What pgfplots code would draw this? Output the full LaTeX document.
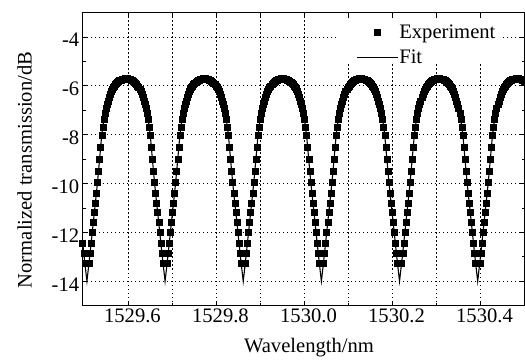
\documentclass[border=0pt]{standalone}
\usepackage{fontspec}
\setmainfont{Liberation Serif}
\usepackage{pgfplots}
\usepackage{pgfplotstable}
\pgfplotsset{compat=1.18}
\pgfplotstableread{
x f
1529.4960 -12.43
1529.4984 -12.84
1529.5008 -13.24
1529.5032 -13.62
1529.5056 -14.00
1529.5080 -13.62
1529.5104 -13.24
1529.5128 -12.84
1529.5152 -12.43
1529.5176 -12.01
1529.5200 -11.60
1529.5224 -11.19
1529.5248 -10.79
1529.5272 -10.38
1529.5296 -9.95
1529.5320 -9.48
1529.5344 -9.00
1529.5368 -8.51
1529.5392 -8.02
1529.5416 -7.68
1529.5440 -7.38
1529.5464 -7.13
1529.5488 -6.93
1529.5512 -6.76
1529.5536 -6.61
1529.5560 -6.47
1529.5584 -6.34
1529.5608 -6.23
1529.5632 -6.14
1529.5656 -6.06
1529.5680 -5.99
1529.5704 -5.93
1529.5728 -5.88
1529.5752 -5.84
1529.5776 -5.80
1529.5800 -5.77
1529.5824 -5.75
1529.5848 -5.73
1529.5872 -5.72
1529.5896 -5.71
1529.5920 -5.70
1529.5944 -5.70
1529.5968 -5.70
1529.5992 -5.71
1529.6016 -5.72
1529.6040 -5.73
1529.6064 -5.75
1529.6088 -5.77
1529.6112 -5.80
1529.6136 -5.84
1529.6160 -5.88
1529.6184 -5.93
1529.6208 -5.99
1529.6232 -6.06
1529.6256 -6.14
1529.6280 -6.23
1529.6304 -6.34
1529.6328 -6.47
1529.6352 -6.61
1529.6376 -6.76
1529.6400 -6.93
1529.6424 -7.13
1529.6448 -7.38
1529.6472 -7.68
1529.6496 -8.02
1529.6520 -8.51
1529.6544 -9.00
1529.6568 -9.48
1529.6592 -9.95
1529.6616 -10.38
1529.6640 -10.79
1529.6664 -11.19
1529.6688 -11.60
1529.6712 -12.01
1529.6736 -12.43
1529.6760 -12.84
1529.6784 -13.24
1529.6808 -13.62
1529.6832 -14.00
1529.6856 -13.62
1529.6880 -13.24
1529.6904 -12.84
1529.6928 -12.43
1529.6952 -12.01
1529.6976 -11.60
1529.7000 -11.19
1529.7024 -10.79
1529.7048 -10.38
1529.7072 -9.95
1529.7096 -9.48
1529.7120 -9.00
1529.7144 -8.51
1529.7168 -8.02
1529.7192 -7.68
1529.7216 -7.38
1529.7240 -7.13
1529.7264 -6.93
1529.7288 -6.76
1529.7312 -6.61
1529.7336 -6.47
1529.7360 -6.34
1529.7384 -6.23
1529.7408 -6.14
1529.7432 -6.06
1529.7456 -5.99
1529.7480 -5.93
1529.7504 -5.88
1529.7528 -5.84
1529.7552 -5.80
1529.7576 -5.77
1529.7600 -5.75
1529.7624 -5.73
1529.7648 -5.72
1529.7672 -5.71
1529.7696 -5.70
1529.7720 -5.70
1529.7744 -5.70
1529.7768 -5.71
1529.7792 -5.72
1529.7816 -5.73
1529.7840 -5.75
1529.7864 -5.77
1529.7888 -5.80
1529.7912 -5.84
1529.7936 -5.88
1529.7960 -5.93
1529.7984 -5.99
1529.8008 -6.06
1529.8032 -6.14
1529.8056 -6.23
1529.8080 -6.34
1529.8104 -6.47
1529.8128 -6.61
1529.8152 -6.76
1529.8176 -6.93
1529.8200 -7.13
1529.8224 -7.38
1529.8248 -7.68
1529.8272 -8.02
1529.8296 -8.51
1529.8320 -9.00
1529.8344 -9.48
1529.8368 -9.95
1529.8392 -10.38
1529.8416 -10.79
1529.8440 -11.19
1529.8464 -11.60
1529.8488 -12.01
1529.8512 -12.43
1529.8536 -12.84
1529.8560 -13.24
1529.8584 -13.62
1529.8608 -14.00
1529.8632 -13.62
1529.8656 -13.24
1529.8680 -12.84
1529.8704 -12.43
1529.8728 -12.01
1529.8752 -11.60
1529.8776 -11.19
1529.8800 -10.79
1529.8824 -10.38
1529.8848 -9.95
1529.8872 -9.48
1529.8896 -9.00
1529.8920 -8.51
1529.8944 -8.02
1529.8968 -7.68
1529.8992 -7.38
1529.9016 -7.13
1529.9040 -6.93
1529.9064 -6.76
1529.9088 -6.61
1529.9112 -6.47
1529.9136 -6.34
1529.9160 -6.23
1529.9184 -6.14
1529.9208 -6.06
1529.9232 -5.99
1529.9256 -5.93
1529.9280 -5.88
1529.9304 -5.84
1529.9328 -5.80
1529.9352 -5.77
1529.9376 -5.75
1529.9400 -5.73
1529.9424 -5.72
1529.9448 -5.71
1529.9472 -5.70
1529.9496 -5.70
1529.9520 -5.70
1529.9544 -5.71
1529.9568 -5.72
1529.9592 -5.73
1529.9616 -5.75
1529.9640 -5.77
1529.9664 -5.80
1529.9688 -5.84
1529.9712 -5.88
1529.9736 -5.93
1529.9760 -5.99
1529.9784 -6.06
1529.9808 -6.14
1529.9832 -6.23
1529.9856 -6.34
1529.9880 -6.47
1529.9904 -6.61
1529.9928 -6.76
1529.9952 -6.93
1529.9976 -7.13
1530.0000 -7.38
1530.0024 -7.68
1530.0048 -8.02
1530.0072 -8.51
1530.0096 -9.00
1530.0120 -9.48
1530.0144 -9.95
1530.0168 -10.38
1530.0192 -10.79
1530.0216 -11.19
1530.0240 -11.60
1530.0264 -12.01
1530.0288 -12.43
1530.0312 -12.84
1530.0336 -13.24
1530.0360 -13.62
1530.0384 -14.00
1530.0408 -13.62
1530.0432 -13.24
1530.0456 -12.84
1530.0480 -12.43
1530.0504 -12.01
1530.0528 -11.60
1530.0552 -11.19
1530.0576 -10.79
1530.0600 -10.38
1530.0624 -9.95
1530.0648 -9.48
1530.0672 -9.00
1530.0696 -8.51
1530.0720 -8.02
1530.0744 -7.68
1530.0768 -7.38
1530.0792 -7.13
1530.0816 -6.93
1530.0840 -6.76
1530.0864 -6.61
1530.0888 -6.47
1530.0912 -6.34
1530.0936 -6.23
1530.0960 -6.14
1530.0984 -6.06
1530.1008 -5.99
1530.1032 -5.93
1530.1056 -5.88
1530.1080 -5.84
1530.1104 -5.80
1530.1128 -5.77
1530.1152 -5.75
1530.1176 -5.73
1530.1200 -5.72
1530.1224 -5.71
1530.1248 -5.70
1530.1272 -5.70
1530.1296 -5.70
1530.1320 -5.71
1530.1344 -5.72
1530.1368 -5.73
1530.1392 -5.75
1530.1416 -5.77
1530.1440 -5.80
1530.1464 -5.84
1530.1488 -5.88
1530.1512 -5.93
1530.1536 -5.99
1530.1560 -6.06
1530.1584 -6.14
1530.1608 -6.23
1530.1632 -6.34
1530.1656 -6.47
1530.1680 -6.61
1530.1704 -6.76
1530.1728 -6.93
1530.1752 -7.13
1530.1776 -7.38
1530.1800 -7.68
1530.1824 -8.02
1530.1848 -8.51
1530.1872 -9.00
1530.1896 -9.48
1530.1920 -9.95
1530.1944 -10.38
1530.1968 -10.79
1530.1992 -11.19
1530.2016 -11.60
1530.2040 -12.01
1530.2064 -12.43
1530.2088 -12.84
1530.2112 -13.24
1530.2136 -13.62
1530.2160 -14.00
1530.2184 -13.62
1530.2208 -13.24
1530.2232 -12.84
1530.2256 -12.43
1530.2280 -12.01
1530.2304 -11.60
1530.2328 -11.19
1530.2352 -10.79
1530.2376 -10.38
1530.2400 -9.95
1530.2424 -9.48
1530.2448 -9.00
1530.2472 -8.51
1530.2496 -8.02
1530.2520 -7.68
1530.2544 -7.38
1530.2568 -7.13
1530.2592 -6.93
1530.2616 -6.76
1530.2640 -6.61
1530.2664 -6.47
1530.2688 -6.34
1530.2712 -6.23
1530.2736 -6.14
1530.2760 -6.06
1530.2784 -5.99
1530.2808 -5.93
1530.2832 -5.88
1530.2856 -5.84
1530.2880 -5.80
1530.2904 -5.77
1530.2928 -5.75
1530.2952 -5.73
1530.2976 -5.72
1530.3000 -5.71
1530.3024 -5.70
1530.3048 -5.70
1530.3072 -5.70
1530.3096 -5.71
1530.3120 -5.72
1530.3144 -5.73
1530.3168 -5.75
1530.3192 -5.77
1530.3216 -5.80
1530.3240 -5.84
1530.3264 -5.88
1530.3288 -5.93
1530.3312 -5.99
1530.3336 -6.06
1530.3360 -6.14
1530.3384 -6.23
1530.3408 -6.34
1530.3432 -6.47
1530.3456 -6.61
1530.3480 -6.76
1530.3504 -6.93
1530.3528 -7.13
1530.3552 -7.38
1530.3576 -7.68
1530.3600 -8.02
1530.3624 -8.51
1530.3648 -9.00
1530.3672 -9.48
1530.3696 -9.95
1530.3720 -10.38
1530.3744 -10.79
1530.3768 -11.19
1530.3792 -11.60
1530.3816 -12.01
1530.3840 -12.43
1530.3864 -12.84
1530.3888 -13.24
1530.3912 -13.62
1530.3936 -14.00
1530.3960 -13.62
1530.3984 -13.24
1530.4008 -12.84
1530.4032 -12.43
1530.4056 -12.01
1530.4080 -11.60
1530.4104 -11.19
1530.4128 -10.79
1530.4152 -10.38
1530.4176 -9.95
1530.4200 -9.48
1530.4224 -9.00
1530.4248 -8.51
1530.4272 -8.02
1530.4296 -7.68
1530.4320 -7.38
1530.4344 -7.13
1530.4368 -6.93
1530.4392 -6.76
1530.4416 -6.61
1530.4440 -6.47
1530.4464 -6.34
1530.4488 -6.23
1530.4512 -6.14
1530.4536 -6.06
1530.4560 -5.99
1530.4584 -5.93
1530.4608 -5.88
1530.4632 -5.84
1530.4656 -5.80
1530.4680 -5.77
1530.4704 -5.75
1530.4728 -5.73
1530.4752 -5.72
1530.4776 -5.71
1530.4800 -5.70
1530.4824 -5.70
1530.4848 -5.70
1530.4872 -5.71
1530.4896 -5.72
1530.4920 -5.73
1530.4944 -5.75
1530.4968 -5.77
1530.4992 -5.80
}\spec
\begin{document}
\begin{tikzpicture}
\begin{axis}[
  width=441.8pt, height=293pt, scale only axis,
  xmin=1529.496, xmax=1530.5, ymin=-15, ymax=-3,
  font=\fontsize{20.6pt}{24pt}\selectfont,
  xtick={1529.6,1529.8,1530.0,1530.2,1530.4},
  xticklabels={1529.6,1529.8,1530.0,1530.2,1530.4},
  minor xtick={1529.7,1529.9,1530.1,1530.3},
  ytick={-14,-12,-10,-8,-6,-4},
  yticklabels={-14,-12,-10,-8,-6,-4},
  minor ytick={-13,-11,-9,-7,-5},
  xmajorgrids, xminorgrids, ymajorgrids,
  major grid style={black, line width=0.9pt, dash pattern=on 1.2pt off 2.8pt},
  minor grid style={black, line width=0.9pt, dash pattern=on 1.2pt off 2.8pt},
  tick align=inside,
  major tick length=5pt, minor tick length=3pt,
  every tick/.style={black, line width=0.9pt},
  axis line style={black, line width=1.2pt},
  xticklabel style={inner ysep=3pt, xshift=4pt},
  yticklabel style={yshift=-3pt},
  every axis x label/.style={at={(axis description cs:0.5122,-0.1614)}, anchor=base},
  every axis y label/.style={at={(axis description cs:-0.1154,0.463)}, rotate=90, anchor=base},
  xlabel={Wavelength/nm},
  ylabel={Normalized transmission/dB},
  legend cell align=left,
  legend style={draw=none, fill=none, inner xsep=0pt, inner ysep=0pt,
    at={(axis description cs:0.6192,0.9604)}, anchor=north west, row sep=9pt,
    nodes={inner xsep=0.75pt, inner ysep=0pt, text height=14pt, text depth=2pt},
    font=\fontsize{20.6pt}{24pt}\selectfont},
]
\fill[white] (rel axis cs:0.5779,0.8283) rectangle (rel axis cs:0.9446,0.9812);
\addplot[only marks, mark=square*, mark size=3pt, black, restrict y to domain=-13.3:0,
  legend image code/.code={\path[draw=none,fill=none] (0pt,-2.6pt) rectangle (41pt,2.6pt); \fill[black] (17.6pt,-3pt) rectangle (23.4pt,3pt);}]
  table[x=x,y=f]{\spec};
\addlegendentry{Experiment}
\addplot[black, line width=1.1pt,
  legend image code/.code={\draw[black, line width=1.1pt] (0pt,0pt) -- (41pt,0pt);}]
  table[x=x,y=f]{\spec};
\addlegendentry{Fit}
\coordinate (ll) at (rel axis cs:0,0);
\coordinate (ur) at (rel axis cs:1,1);
\end{axis}
\pgfresetboundingbox
\path[use as bounding box] ([shift={(-82.7pt,-53.3pt)}]ll) rectangle ([shift={(0.5pt,12.7pt)}]ur);
\end{tikzpicture}
\end{document}
